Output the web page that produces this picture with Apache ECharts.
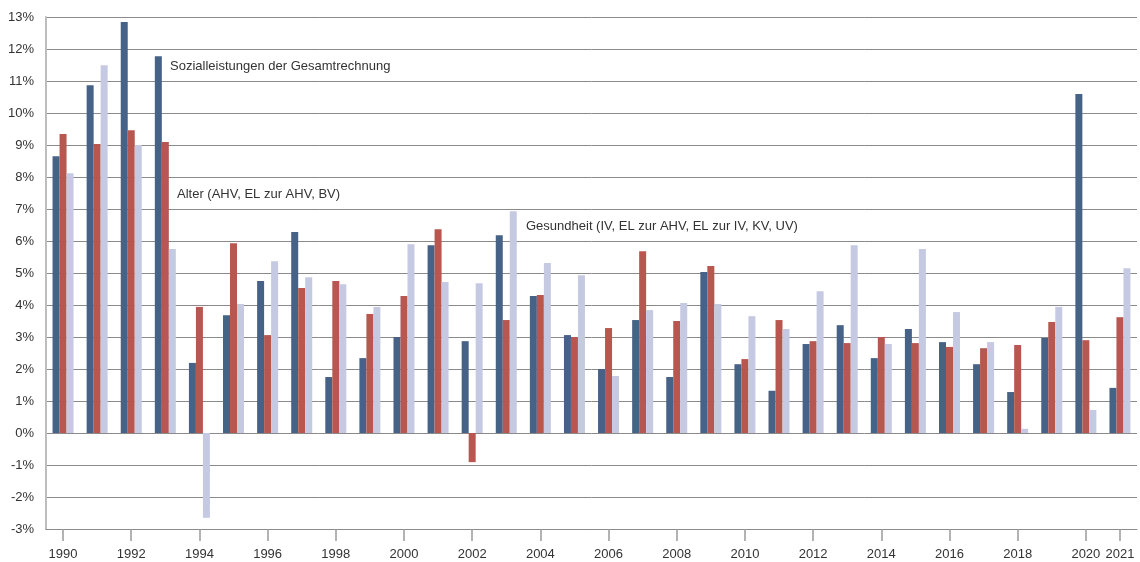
<!DOCTYPE html>
<html>
<head>
<meta charset="utf-8">
<script src="https://cdn.jsdelivr.net/npm/echarts@6/dist/echarts.min.js"></script>
<style>html,body{margin:0;padding:0;background:#fff;}#c{width:1140px;height:562px;}</style>
</head>
<body>
<div id="c"></div>
<script>
const years = ['1990','1991','1992','1993','1994','1995','1996','1997','1998','1999','2000','2001','2002','2003','2004','2005','2006','2007','2008','2009','2010','2011','2012','2013','2014','2015','2016','2017','2018','2019','2020','2021'];
const total = [8.65,10.87,12.84,11.77,2.19,3.68,4.75,6.28,1.75,2.34,3.0,5.87,2.87,6.18,4.28,3.06,2.0,3.53,1.75,5.03,2.15,1.32,2.78,3.37,2.34,3.25,2.84,2.15,1.28,2.97,10.59,1.41];
const alter = [9.34,9.03,9.46,9.09,3.94,5.93,3.06,4.53,4.75,3.72,4.28,6.37,-0.91,3.53,4.31,3.0,3.28,5.68,3.5,5.22,2.31,3.53,2.87,2.81,3.0,2.81,2.69,2.65,2.75,3.47,2.9,3.62];
const gesundheit = [8.12,11.49,9.0,5.75,-2.65,4.03,5.37,4.87,4.65,3.94,5.9,4.72,4.68,6.93,5.31,4.93,1.78,3.84,4.06,4.03,3.65,3.25,4.43,5.87,2.78,5.75,3.78,2.84,0.13,3.94,0.72,5.15];
const seriesNames = ['Sozialleistungen der Gesamtrechnung','Alter (AHV, EL zur AHV, BV)','Gesundheit (IV, EL zur AHV, EL zur IV, KV, UV)'];
const yTicks = {min:-3, max:13, interval:1};

const font = '"Liberation Sans", Arial, sans-serif';
const showYear = (i) => (i % 2 === 0) || i === years.length - 1;
const chart = echarts.init(document.getElementById('c'));
chart.setOption({
  animation: false,
  textStyle: {fontFamily: font},
  grid: {left: 46, right: 3, top: 17, bottom: 33, containLabel: false},
  xAxis: {
    type: 'category',
    data: years,
    axisLine: {onZero: false, lineStyle: {color: '#8c8c8c', width: 1}},
    axisTick: {show: true, alignWithLabel: true, interval: showYear, length: 12, lineStyle: {color: '#9a9a9a', width: 1.5}},
    axisLabel: {interval: showYear, margin: 19, fontSize: 13, color: '#333', fontFamily: font}
  },
  yAxis: {
    type: 'value',
    min: yTicks.min, max: yTicks.max, interval: yTicks.interval,
    axisLine: {show: true, lineStyle: {color: '#bdbdbd', width: 2}},
    axisTick: {show: false},
    axisLabel: {formatter: '{value}%', fontSize: 13, color: '#333', margin: 12, fontFamily: font},
    splitLine: {lineStyle: {color: '#8a8a8a', width: 1}}
  },
  series: [
    {name: seriesNames[0], type: 'bar', data: total, barWidth: 7, barGap: '0%', itemStyle: {color: '#476287'}},
    {name: seriesNames[1], type: 'bar', data: alter, barWidth: 7, barGap: '0%', itemStyle: {color: '#b85750'}},
    {name: seriesNames[2], type: 'bar', data: gesundheit, barWidth: 7, barGap: '0%', itemStyle: {color: '#c5cae2'}}
  ],
  graphic: [
    {type: 'text', left: 170, top: 60, style: {text: seriesNames[0], fill: '#333', font: '13px ' + font}},
    {type: 'text', left: 177, top: 188, style: {text: seriesNames[1], fill: '#333', font: '13px ' + font}},
    {type: 'text', left: 526, top: 220, style: {text: seriesNames[2], fill: '#333', font: '13px ' + font}}
  ]
});
</script>
</body>
</html>
